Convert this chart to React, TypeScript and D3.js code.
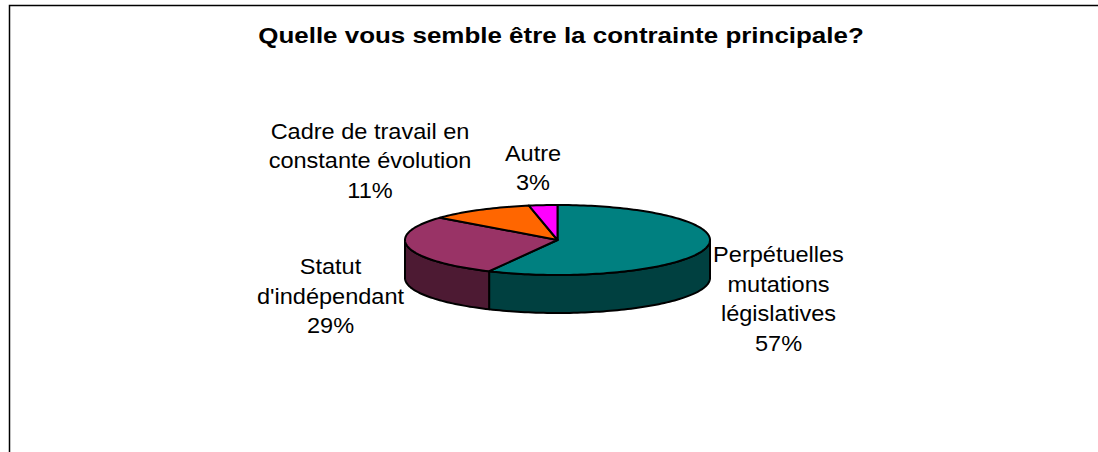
import React from "react";
import * as d3 from "d3";

const title = "Quelle vous semble être la contrainte principale?";
const categories = [
  ["Perpétuelles", "mutations", "législatives"],
  ["Statut", "d'indépendant"],
  ["Cadre de travail en", "constante évolution"],
  ["Autre"],
];
// slightly finer than the rounded percentages printed on the labels
const values = [57.4, 28.6, 11, 3];
const topColors = ["#008080", "#993366", "#FF6600", "#FF00FF"];
const sideColors = ["#004040", "#4D1A33", "#803300", "#800080"];
const labelPos = [
  [778.5, 262],
  [330.5, 274],
  [370, 138.5],
  [533, 160.5],
];

const cx = 557.5;
const cy = 240;
const rx = 152.5;
const ry = 35;
const depth = 38;
const lineStep = 29.6;

const pie = d3.pie<number>().sort(null);
const slices = pie(values);

const px = (a: number) => cx + rx * Math.sin(a);
const py = (a: number) => cy - ry * Math.cos(a);
const ellipsePts = (a0: number, a1: number, dy = 0): [number, number][] => {
  const n = Math.max(2, Math.ceil(Math.abs(a1 - a0) * 40));
  return d3.range(n + 1).map((i) => {
    const a = a0 + ((a1 - a0) * i) / n;
    return [px(a), py(a) + dy] as [number, number];
  });
};
const line = d3.line();

export default function App() {
  return (
    <svg
      width={1098}
      height={452}
      style={{ position: "absolute", left: 0, top: 0, background: "#fff" }}
      fontFamily="'Liberation Sans', Arial, sans-serif"
    >
      <path d="M9.5 452V5.5H1098" fill="none" stroke="#000" strokeWidth={1.5} />
      <text
        transform="translate(561,43) scale(1.18,1)"
        textAnchor="middle"
        fontSize={22}
        fontWeight="bold"
      >
        {title}
      </text>
      {slices.map((s, i) => {
        const a0 = Math.max(s.startAngle, Math.PI / 2);
        const a1 = Math.min(s.endAngle, (3 * Math.PI) / 2);
        if (a0 >= a1) return null;
        const pts = [...ellipsePts(a0, a1), ...ellipsePts(a1, a0, depth)];
        return (
          <path
            key={"side" + i}
            d={line(pts) + "Z"}
            fill={sideColors[i]}
            stroke="#000"
            strokeWidth={2}
            strokeLinejoin="round"
          />
        );
      })}
      {slices.map((s, i) => (
        <path
          key={"top" + i}
          d={line([[cx, cy], ...ellipsePts(s.startAngle, s.endAngle)]) + "Z"}
          fill={topColors[i]}
          stroke="#000"
          strokeWidth={2}
          strokeLinejoin="round"
        />
      ))}
      {categories.map((lines, i) => (
        <text
          key={i}
          transform={`translate(${labelPos[i][0]},${labelPos[i][1]}) scale(1.07,1)`}
          textAnchor="middle"
          fontSize={22}
          fill="#000"
        >
          {[...lines, Math.round(values[i]) + "%"].map((t, j) => (
            <tspan key={j} x={0} y={j * lineStep}>
              {t}
            </tspan>
          ))}
        </text>
      ))}
    </svg>
  );
}
